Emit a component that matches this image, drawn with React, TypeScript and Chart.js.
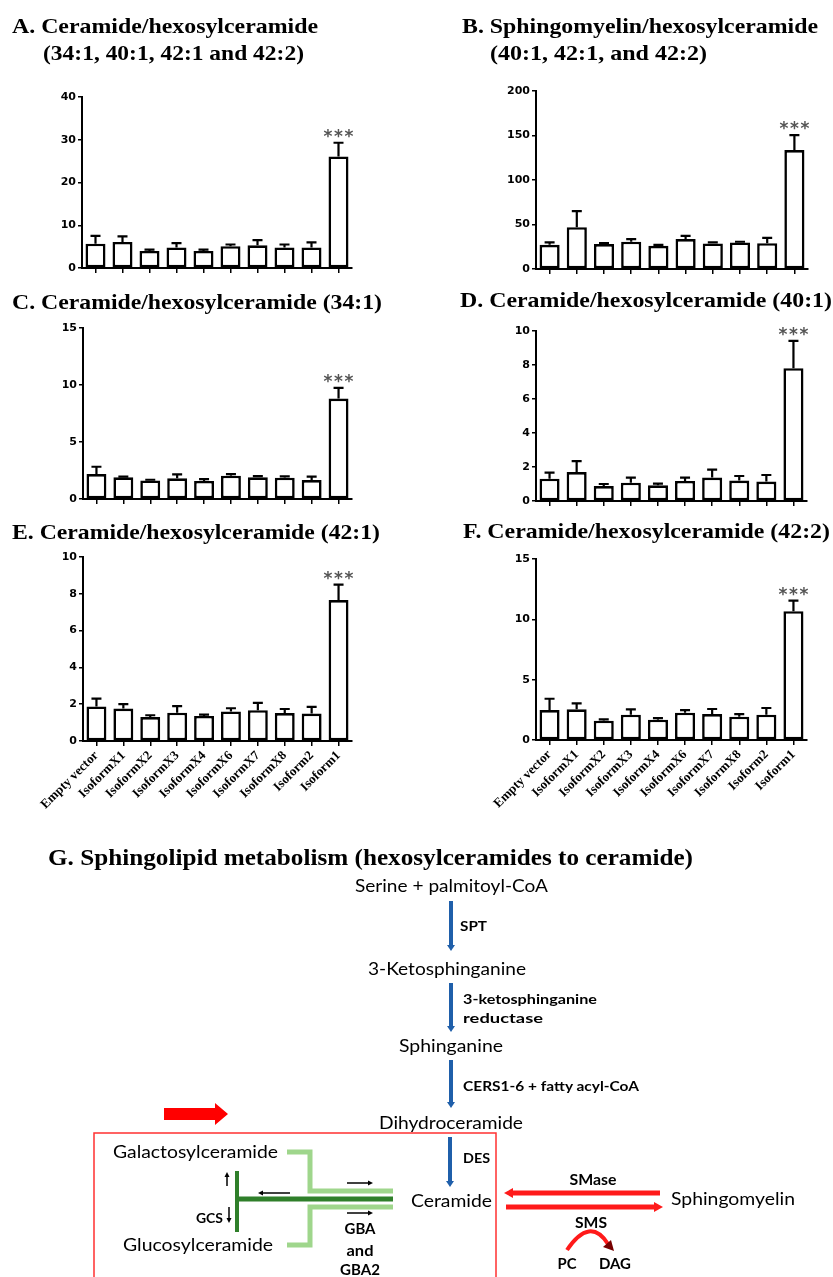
import React, { useEffect, useRef } from 'react';
import { Chart, registerables } from 'chart.js';
Chart.register(...registerables);

// ---------- data ----------
const categories = ['Empty vector', 'IsoformX1', 'IsoformX2', 'IsoformX3', 'IsoformX4', 'IsoformX6', 'IsoformX7', 'IsoformX8', 'Isoform2', 'Isoform1'];

const meanA = [5.7, 6.1, 4.0, 4.8, 4.0, 5.1, 5.3, 4.8, 4.8, 26.1];
const semA = [1.8, 1.3, 0.3, 1.0, 0.3, 0.4, 1.2, 0.7, 1.2, 3.2];
const ticksA = [0, 10, 20, 30, 40];

const meanB = [27.2, 47, 28, 30.6, 26, 33.6, 28.7, 29.9, 29, 133.6];
const semB = [2.7, 18, 1, 3, 1, 3.7, 1.2, 0.7, 6, 16.8];
const ticksB = [0, 50, 100, 150, 200];

const meanC = [2.19, 1.9, 1.63, 1.81, 1.58, 2.04, 1.9, 1.87, 1.66, 8.81];
const semC = [0.64, 0.06, 0.06, 0.35, 0.17, 0.15, 0.1, 0.12, 0.3, 0.94];
const ticksC = [0, 5, 10, 15];

const meanD = [1.31, 1.7, 0.88, 1.08, 0.92, 1.18, 1.38, 1.2, 1.14, 7.81];
const semD = [0.36, 0.64, 0.12, 0.3, 0.1, 0.2, 0.47, 0.27, 0.39, 1.61];
const ticksD = [0, 2, 4, 6, 8, 10];

const meanE = [1.88, 1.76, 1.3, 1.54, 1.36, 1.61, 1.67, 1.52, 1.49, 7.66];
const semE = [0.42, 0.24, 0.1, 0.36, 0.07, 0.17, 0.4, 0.22, 0.36, 0.84];
const ticksE = [0, 2, 4, 6, 8, 10];

const meanF = [2.48, 2.54, 1.6, 2.1, 1.68, 2.26, 2.15, 1.93, 2.1, 10.67];
const semF = [0.94, 0.49, 0.11, 0.44, 0.14, 0.22, 0.42, 0.22, 0.55, 0.88];
const ticksF = [0, 5, 10, 15];

const sigIndex = [9];
const sigLabel = '***';

// ---------- chart plumbing ----------
const Y_W = 60;
const PAD_T = 12;
const PAD_R = 6;

const errPlugin = {
  id: 'errbars',
  afterDatasetsDraw(chart: any, _args: any, opts: any) {
    const { ctx } = chart;
    const y = chart.scales.y;
    const meta = chart.getDatasetMeta(0);
    const vals = chart.data.datasets[0].data as number[];
    ctx.save();
    ctx.strokeStyle = '#000';
    ctx.lineWidth = 2.2;
    meta.data.forEach((bar: any, i: number) => {
      const v = vals[i];
      const e = opts.sem[i];
      const yb = y.getPixelForValue(v);
      const yt = y.getPixelForValue(v + e);
      ctx.beginPath();
      ctx.moveTo(bar.x, yb);
      ctx.lineTo(bar.x, yt);
      ctx.moveTo(bar.x - 5, yt);
      ctx.lineTo(bar.x + 5, yt);
      ctx.stroke();
      if (opts.sig.includes(i)) {
        ctx.fillStyle = '#555';
        ctx.font = 'bold 17px "DejaVu Sans"';
        ctx.textAlign = 'center';
        ctx.textBaseline = 'alphabetic';
        const chars = opts.label.split('');
        chars.forEach((c: string, k: number) => {
          ctx.fillText(c, bar.x + (k - (chars.length - 1) / 2) * 10.5, yt - 1);
        });
      }
    });
    ctx.restore();
  },
};

type Panel = {
  mean: number[];
  sem: number[];
  ticks: number[];
  left: number;
  top: number;
  right: number;
  bottom: number;
  labels: boolean;
};

function BarPanel({ p }: { p: Panel }) {
  const ref = useRef<HTMLCanvasElement | null>(null);
  const xH = p.labels ? 90 : 10;
  const W = p.right - p.left + Y_W + PAD_R;
  const H = PAD_T + (p.bottom - p.top) + xH;
  useEffect(() => {
    if (!ref.current) return;
    const max = p.ticks[p.ticks.length - 1];
    const step = p.ticks[1] - p.ticks[0];
    const chart = new Chart(ref.current, {
      type: 'bar',
      data: {
        labels: categories,
        datasets: [
          {
            data: p.mean,
            backgroundColor: '#ffffff',
            borderColor: '#000000',
            borderWidth: 2.6,
            borderSkipped: false,
            barPercentage: 0.74,
            categoryPercentage: 1,
          },
        ],
      },
      options: {
        animation: false,
        responsive: false,
        events: [],
        layout: { padding: { top: PAD_T, right: PAD_R, left: 0, bottom: 0 } },
        plugins: {
          legend: { display: false },
          tooltip: { enabled: false },
          errbars: { sem: p.sem, sig: sigIndex, label: sigLabel },
        } as any,
        scales: {
          x: {
            offset: true,
            grid: { display: true, offset: false, drawOnChartArea: false, drawTicks: true, tickLength: 5, color: '#000', lineWidth: 1.5 },
            border: { display: true, color: '#000', width: 2 },
            ticks: {
              display: p.labels,
              autoSkip: false,
              maxRotation: 45,
              minRotation: 45,
              padding: 2,
              color: '#000',
              font: { family: '"Liberation Serif", "Times New Roman", serif', weight: 'bold', size: 13 },
            },
            afterFit: (s: any) => {
              s.height = xH;
            },
          },
          y: {
            min: 0,
            max,
            ticks: {
              stepSize: step,
              padding: 2,
              color: '#000',
              font: { family: '"DejaVu Sans", sans-serif', weight: 'bold', size: 11 },
            },
            grid: { display: true, drawOnChartArea: false, drawTicks: true, tickLength: 4, color: '#000', lineWidth: 1.5 },
            border: { display: true, color: '#000', width: 2 },
            afterFit: (s: any) => {
              s.width = Y_W;
            },
          },
        },
      } as any,
      plugins: [errPlugin as any],
    });
    return () => chart.destroy();
  }, []);
  return (
    <canvas
      ref={ref}
      width={W}
      height={H}
      style={{ position: 'absolute', left: p.left - Y_W, top: p.top - PAD_T, width: W, height: H }}
    />
  );
}

const panels: Panel[] = [
  { mean: meanA, sem: semA, ticks: ticksA, left: 82, top: 97, right: 352, bottom: 268, labels: false },
  { mean: meanB, sem: semB, ticks: ticksB, left: 536, top: 91, right: 808, bottom: 269, labels: false },
  { mean: meanC, sem: semC, ticks: ticksC, left: 83, top: 328, right: 352, bottom: 499, labels: false },
  { mean: meanD, sem: semD, ticks: ticksD, left: 536, top: 331, right: 807, bottom: 501, labels: false },
  { mean: meanE, sem: semE, ticks: ticksE, left: 83, top: 557, right: 352, bottom: 741, labels: true },
  { mean: meanF, sem: semF, ticks: ticksF, left: 536, top: 559, right: 807, bottom: 740, labels: true },
];

// ---------- svg helpers ----------
const SERIF = '"Liberation Serif", "Times New Roman", serif';
const SANS = 'Lato, "Open Sans", sans-serif';

function T(props: { x: number; y: number; w: number; size: number; bold?: boolean; family?: string; anchor?: string; fill?: string; children: string }) {
  const { x, y, w, size, bold, family, anchor, fill, children } = props;
  return (
    <text
      x={x}
      y={y}
      textLength={w}
      lengthAdjust="spacingAndGlyphs"
      textAnchor={anchor || 'start'}
      dominantBaseline="central"
      fontSize={size}
      fontWeight={bold ? 'bold' : 'normal'}
      fontFamily={family || SANS}
      fill={fill || '#000'}
    >
      {children}
    </text>
  );
}

function Arrow(props: { x1: number; y1: number; x2: number; y2: number; color: string; width: number; hl: number; hw: number }) {
  const { x1, y1, x2, y2, color, width, hl, hw } = props;
  const dx = x2 - x1;
  const dy = y2 - y1;
  const len = Math.sqrt(dx * dx + dy * dy);
  const ux = dx / len;
  const uy = dy / len;
  const bx = x2 - ux * hl;
  const by = y2 - uy * hl;
  const px = -uy;
  const py = ux;
  const pts = `${x2},${y2} ${bx + px * hw},${by + py * hw} ${bx - px * hw},${by - py * hw}`;
  return (
    <g>
      <line x1={x1} y1={y1} x2={bx + ux * 0.5} y2={by + uy * 0.5} stroke={color} strokeWidth={width} />
      <polygon points={pts} fill={color} />
    </g>
  );
}

const BLUE = '#1f5faa';
const RED = '#ff1a1a';
const LGREEN = '#9fd68c';
const DGREEN = '#2f7f2a';

function Diagram() {
  return (
    <svg width={833} height={1277} style={{ position: 'absolute', left: 0, top: 0, pointerEvents: 'none' }}>
      {/* panel titles */}
      <T x={12} y={26} w={306} size={21} bold family={SERIF}>A. Ceramide/hexosylceramide</T>
      <T x={43} y={53} w={261} size={21} bold family={SERIF}>(34:1, 40:1, 42:1 and 42:2)</T>
      <T x={462} y={26} w={356} size={21} bold family={SERIF}>B. Sphingomyelin/hexosylceramide</T>
      <T x={490} y={53} w={217} size={21} bold family={SERIF}>(40:1, 42:1, and 42:2)</T>
      <T x={12} y={302} w={370} size={21} bold family={SERIF}>C. Ceramide/hexosylceramide (34:1)</T>
      <T x={460} y={300} w={372} size={21} bold family={SERIF}>D. Ceramide/hexosylceramide (40:1)</T>
      <T x={12} y={532} w={368} size={21} bold family={SERIF}>E. Ceramide/hexosylceramide (42:1)</T>
      <T x={463} y={531} w={367} size={21} bold family={SERIF}>F. Ceramide/hexosylceramide (42:2)</T>
      <T x={48} y={857} w={645} size={23} bold family={SERIF}>G. Sphingolipid metabolism (hexosylceramides to ceramide)</T>

      {/* pathway main chain */}
      <T x={355} y={885} w={193} size={17}>Serine + palmitoyl-CoA</T>
      <Arrow x1={451} y1={901} x2={451} y2={951} color={BLUE} width={4} hl={6} hw={4} />
      <T x={460} y={925} w={27} size={14} bold>SPT</T>
      <T x={368} y={968} w={158} size={17}>3-Ketosphinganine</T>
      <Arrow x1={451} y1={983} x2={451} y2={1032} color={BLUE} width={4} hl={6} hw={4} />
      <T x={463} y={998} w={134} size={14} bold>3-ketosphinganine</T>
      <T x={463} y={1017} w={80} size={14} bold>reductase</T>
      <T x={399} y={1045} w={104} size={17}>Sphinganine</T>
      <Arrow x1={451} y1={1060} x2={451} y2={1108} color={BLUE} width={4} hl={6} hw={4} />
      <T x={463} y={1085} w={176} size={14} bold>CERS1-6 + fatty acyl-CoA</T>
      <T x={379} y={1122} w={144} size={17}>Dihydroceramide</T>
      <Arrow x1={450} y1={1137} x2={450} y2={1187} color={BLUE} width={4} hl={6} hw={4} />
      <T x={463} y={1157} w={27} size={14} bold>DES</T>
      <T x={411} y={1200} w={81} size={17}>Ceramide</T>

      {/* big red arrow */}
      <polygon points="164,1108 215,1108 215,1103 228,1114 215,1125 215,1120 164,1120" fill="#ff0000" />

      {/* red box */}
      <rect x={94} y={1133} width={402} height={170} fill="none" stroke="#ff3030" strokeWidth={1.5} />

      {/* hexosylceramide branch */}
      <T x={113} y={1151} w={165} size={17}>Galactosylceramide</T>
      <T x={123} y={1244} w={150} size={17}>Glucosylceramide</T>
      <path d="M 287 1152 H 310 V 1191 H 393" fill="none" stroke={LGREEN} strokeWidth={5} />
      <path d="M 393 1207 H 310 V 1245 H 287" fill="none" stroke={LGREEN} strokeWidth={5} />
      <line x1={236} y1={1199} x2={393} y2={1199} stroke={DGREEN} strokeWidth={5} />
      <line x1={237} y1={1171} x2={237} y2={1232} stroke={DGREEN} strokeWidth={4} />
      <Arrow x1={347} y1={1183} x2={373} y2={1183} color="#000" width={1.5} hl={5} hw={2.5} />
      <Arrow x1={290} y1={1193} x2={258} y2={1193} color="#000" width={1.5} hl={5} hw={2.5} />
      <Arrow x1={347} y1={1213} x2={373} y2={1213} color="#000" width={1.5} hl={5} hw={2.5} />
      <Arrow x1={227} y1={1186} x2={227} y2={1172} color="#000" width={1.5} hl={5} hw={2.5} />
      <Arrow x1={229} y1={1207} x2={229} y2={1223} color="#000" width={1.5} hl={5} hw={2.5} />
      <T x={196} y={1217} w={27} size={14} bold>GCS</T>
      <T x={360} y={1228} w={31} size={15} bold anchor="middle">GBA</T>
      <T x={360} y={1250} w={27} size={15} bold anchor="middle">and</T>
      <T x={360} y={1269} w={40} size={15} bold anchor="middle">GBA2</T>

      {/* sphingomyelin */}
      <T x={593} y={1179} w={47} size={15} bold anchor="middle">SMase</T>
      <Arrow x1={660} y1={1193} x2={504} y2={1193} color={RED} width={5} hl={9} hw={5} />
      <Arrow x1={506} y1={1207} x2={663} y2={1207} color={RED} width={5} hl={9} hw={5} />
      <T x={671} y={1198} w={124} size={17}>Sphingomyelin</T>
      <T x={591} y={1222} w={32} size={15} bold anchor="middle">SMS</T>
      <path d="M 567 1250 Q 590 1216 608 1244" fill="none" stroke={RED} strokeWidth={4} />
      <polygon points="614,1251 603,1247 611,1240" fill="#700" />
      <T x={567} y={1263} w={19} size={15} bold anchor="middle">PC</T>
      <T x={615} y={1263} w={32} size={15} bold anchor="middle">DAG</T>
    </svg>
  );
}

export default function App() {
  return (
    <div style={{ position: 'absolute', left: 0, top: 0, width: 833, height: 1277, overflow: 'hidden', background: '#fff' }}>
      {panels.map((p, i) => (
        <BarPanel key={i} p={p} />
      ))}
      <Diagram />
    </div>
  );
}
